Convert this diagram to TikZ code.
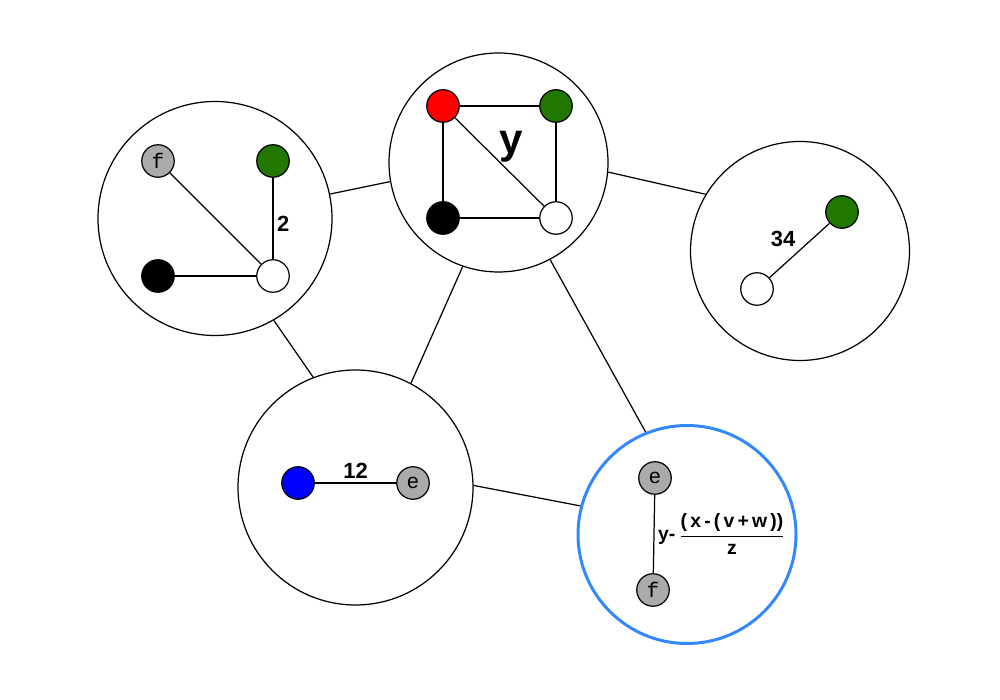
\documentclass[tikz,border=0pt]{standalone}
\usepackage{amsmath}
\usepackage{fontspec}
\setsansfont{Liberation Sans}
\setmonofont{Liberation Mono}
\usepackage{xcolor}
\usepackage{tikz}

\definecolor{vred}{RGB}{255,0,0}
\definecolor{vgreen}{RGB}{34,119,0}
\definecolor{vblue}{RGB}{0,0,255}
\definecolor{vgray}{RGB}{170,170,170}
\definecolor{selblue}{RGB}{51,136,255}

\begin{document}
\begin{tikzpicture}[
  bubble/.style={circle, draw, line width=0.7pt, inner sep=0pt},
  vert/.style={circle, draw, line width=0.7pt, minimum size=0.65cm, inner sep=0pt,
    font=\ttfamily\fontsize{12}{12}\selectfont},
  link/.style={line width=0.7pt},
  wt/.style={font=\sffamily\bfseries\fontsize{12.5}{13}\selectfont, inner sep=2pt}
]
  % Frame
  \useasboundingbox (0,0) rectangle (20,14);

  % Bubbles
  \node[bubble, minimum size=4.68cm] (L) at (4.30, 9.63) {};
  \node[bubble, minimum size=4.38cm] (T) at (9.97, 10.75) {};
  \node[bubble, minimum size=4.38cm] (R) at (16.00, 8.98) {};
  \node[bubble, minimum size=4.70cm] (B) at (7.11, 4.25) {};
  \node[bubble, minimum size=4.36cm, draw=selblue, line width=1.7pt] (Q) at (13.74, 3.31) {};

  % Links between bubbles
  \draw[link] (L.12.8) -- (T.190.7);
  \draw[link] (L.-60.5) -- (B.111.7);
  \draw[link] (T.251.9) -- (B.62.5);
  \draw[link] (T.-5.5) -- (R.149.5);
  \draw[link] (T.-62.6) -- (Q.112.7);
  \draw[link] (B.1.7) -- (Q.165.8);

  % Left bubble
  \node[vert, fill=vgray] (Lf) at (3.16, 10.78) {f};
  \node[vert, fill=vgreen] (Lg) at (5.46, 10.78) {};
  \node[vert, fill=black] (Lk) at (3.16, 8.48) {};
  \node[vert, fill=white] (Lw) at (5.46, 8.48) {};
  \draw[link] (Lf) -- (Lw);
  \draw[link] (Lg) -- (Lw) node[wt, midway, right, yshift=-3pt] {2};
  \draw[link] (Lk) -- (Lw);

  % Top bubble
  \node[vert, fill=vred] (Tr) at (8.86, 11.88) {};
  \node[vert, fill=vgreen] (Tg) at (11.12, 11.88) {};
  \node[vert, fill=black] (Tk) at (8.86, 9.64) {};
  \node[vert, fill=white] (Tw) at (11.12, 9.64) {};
  \draw[link] (Tr) -- (Tg);
  \draw[link] (Tr) -- (Tk);
  \draw[link] (Tr) -- (Tw);
  \draw[link] (Tg) -- (Tw);
  \draw[link] (Tk) -- (Tw);
  \node[font=\sffamily\bfseries\fontsize{24}{24}\selectfont] (Ty) at (10.22, 11.06) {y};

  % Right bubble
  \node[vert, fill=vgreen] (Rg) at (16.84, 9.76) {};
  \node[vert, fill=white] (Rw) at (15.14, 8.22) {};
  \draw[link] (Rw) -- (Rg) node[wt, midway, above left] {34};

  % Bottom left bubble
  \node[vert, fill=vblue] (Bb) at (5.96, 4.34) {};
  \node[vert, fill=vgray] (Be) at (8.26, 4.34) {e};
  \draw[link] (Bb) -- (Be) node[wt, midway, above] {12};

  % Selected bubble
  \node[vert, fill=vgray] (Qe) at (13.10, 4.44) {e};
  \node[vert, fill=vgray] (Qf) at (13.06, 2.20) {f};
  \draw[link] (Qe) -- (Qf) node[midway, right, inner sep=2pt,
    font=\sffamily\bfseries\fontsize{11}{13}\selectfont]
    {y-\,$\dfrac{\text{(\,x\,-\,(\,v\,+\,w\,))}}{\text{z}}$};
\end{tikzpicture}
\end{document}
